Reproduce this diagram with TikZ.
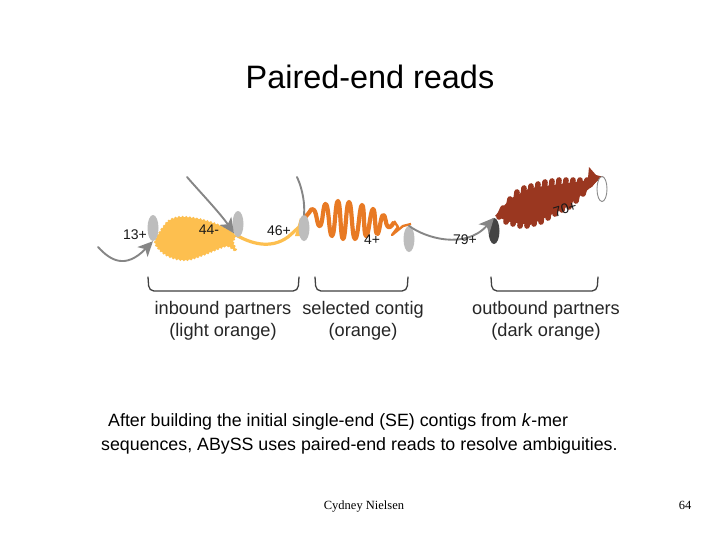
\documentclass[tikz,border=0pt]{standalone}
\usepackage{fontspec}
\setmainfont{Liberation Sans}
\newfontfamily\serifft{Liberation Serif}
\usetikzlibrary{shapes.geometric,arrows.meta}
\definecolor{lightor}{HTML}{FDBF4F}
\definecolor{midor}{HTML}{E87A24}
\definecolor{darkor}{HTML}{9A3720}
\definecolor{ovalgray}{HTML}{BDBDBD}
\definecolor{linkgray}{HTML}{868686}
\definecolor{darkoval}{HTML}{444444}
\def\yellowblob{plot[smooth cycle,tension=0.55] coordinates {(155,242) (162,229) (170,220) (183,217) (203,220) (223,227) (235,235) (233,242) (236,251) (228,246) (220,248) (203,255) (187,260) (173,258) (162,252)}}
\tikzset{
  oval/.style={ellipse,inner sep=0pt,minimum width=11pt,minimum height=26pt,fill=ovalgray},
  seqlabel/.style={inner sep=0pt,font=\fontsize{14}{15}\selectfont,text=black!90},
  grouplabel/.style={inner sep=0pt,align=center,font=\fontsize{18.2}{22}\selectfont,text=black!85},
  footlabel/.style={inner sep=0pt,anchor=base,font=\serifft\fontsize{12.5}{14}\selectfont},
  link/.style={draw=linkgray,line width=1.9pt,line cap=round},
  linkarrow/.style={link,-{Stealth[length=15pt,width=14pt,inset=4pt]}},
  bracket/.style={draw=black!75,line width=1.3pt,line cap=round,rounded corners=5pt},
  tooth/.style={darkor,line width=5.6pt,line cap=round},
}
\begin{document}
\begin{tikzpicture}[x=1pt,y=-1pt]
\useasboundingbox (0,0) rectangle (728,546);
\fill[white] (0,0) rectangle (728,546);

\node[inner sep=0pt,font=\fontsize{32.4}{36}\selectfont] (title) at (370,77) {Paired-end reads};

% light orange contig
\draw[lightor,line width=2.6pt,dash pattern=on 0pt off 3.6pt,line cap=round] \yellowblob;
\fill[lightor] \yellowblob;
\draw[lightor,line width=3.2pt] (236,235) .. controls (250,243) and (270,250) .. (288,237) .. controls (293,233) and (297,228) .. (301,226);
\fill[lightor] (295,236) -- (300,218) -- (304,236) -- cycle;

% orange contig
\draw[midor,line width=4.2pt,line join=round] plot[smooth,tension=0.9] coordinates {
 (304,219) (308,214) (314,210) (320,226) (326,204) (332,236) (338,201) (343,239)
 (349,202) (355,239) (362,205) (366,236) (373,209) (377,234) (383,215) (388,227) (394,222)};
\draw[midor,line width=2.4pt,line join=round] (394,221) -- (398,227) -- (392,235) -- (403,226) -- (411,224);

% dark orange contig: teeth along a spindle
\fill[darkor] (495,216) -- (510,199) -- (530,188) -- (590,180) -- (600,178) -- (590,188) -- (565,208) -- (530,225) -- (510,222) -- cycle;
\foreach \x/\tp/\bt in {501/208/217,508/199/222,515/192/224,522/188/226,529/186/226,536/184/224,543/182/222,550/181/218,557/180/214,564/180/210,571/180/207,578/180/201,585/180/194,592/180/185}{
  \draw[tooth] (\x+2,\tp) -- (\x-2,\bt);
}
\fill[darkor] (588,178) -- (589,167) -- (596,175) -- (604,177) -- (592,184) -- cycle;

% partner ends
\node[oval] (a) at (153,228) {};
\node[oval] (b) at (238,224) {};
\node[oval] (c) at (304,228) {};
\node[oval] (d) at (409,239) {};
\node[oval,fill=darkoval] (e) at (494,231) {};
\node[oval,fill=white,draw=black!45,line width=0.9pt,minimum width=10pt,minimum height=25pt] (f) at (602,189) {};

% free ends of links
\coordinate (p13) at (98,247);
\coordinate (p44) at (187,177);
\coordinate (p46) at (297,177);

\draw[linkarrow] (p13) .. controls (110,260) and (125,270) .. (a.south);
\draw[linkarrow] (p44) .. controls (200,192) and (220,213) .. (b.south west);
\draw[link] (p46) .. controls (303,190) and (305,205) .. (c.north);
\draw[linkarrow] (d.north) .. controls (425,238) and (465,250) .. (e.north);

% labels
\node[seqlabel] (l13) at (135,235) {13+};
\node[seqlabel] (l44) at (209,230) {44-};
\node[seqlabel] (l46) at (279,231) {46+};
\node[seqlabel] (l4) at (372,240) {4+};
\node[seqlabel] (l79) at (465,240) {79+};
\node[seqlabel,rotate=17] (l70) at (565,209) {70+};

% brackets
\draw[bracket] (148,277) -- (149,291) -- (298,291) -- (299,277);
\draw[bracket] (315,277) -- (316,291) -- (407,291) -- (408,277);
\draw[bracket] (491,277) -- (492,291) -- (597,291) -- (598,277);

\node[grouplabel] (g1) at (223,321) {inbound partners\\(light orange)};
\node[grouplabel] (g2) at (363,321) {selected contig\\(orange)};
\node[grouplabel] (g3) at (546,321) {outbound partners\\(dark orange)};

\node[inner sep=0pt,align=left,anchor=north west,font=\fontsize{17.8}{24}\selectfont] (body) at (101,413)
 {\hspace*{7pt}After building the initial single-end (SE) contigs from \textit{k}-mer\\sequences, ABySS uses paired-end reads to resolve ambiguities.};

\node[footlabel] (foot) at (364,509) {Cydney Nielsen};
\node[footlabel] (page) at (685,509) {64};
\end{tikzpicture}
\end{document}
